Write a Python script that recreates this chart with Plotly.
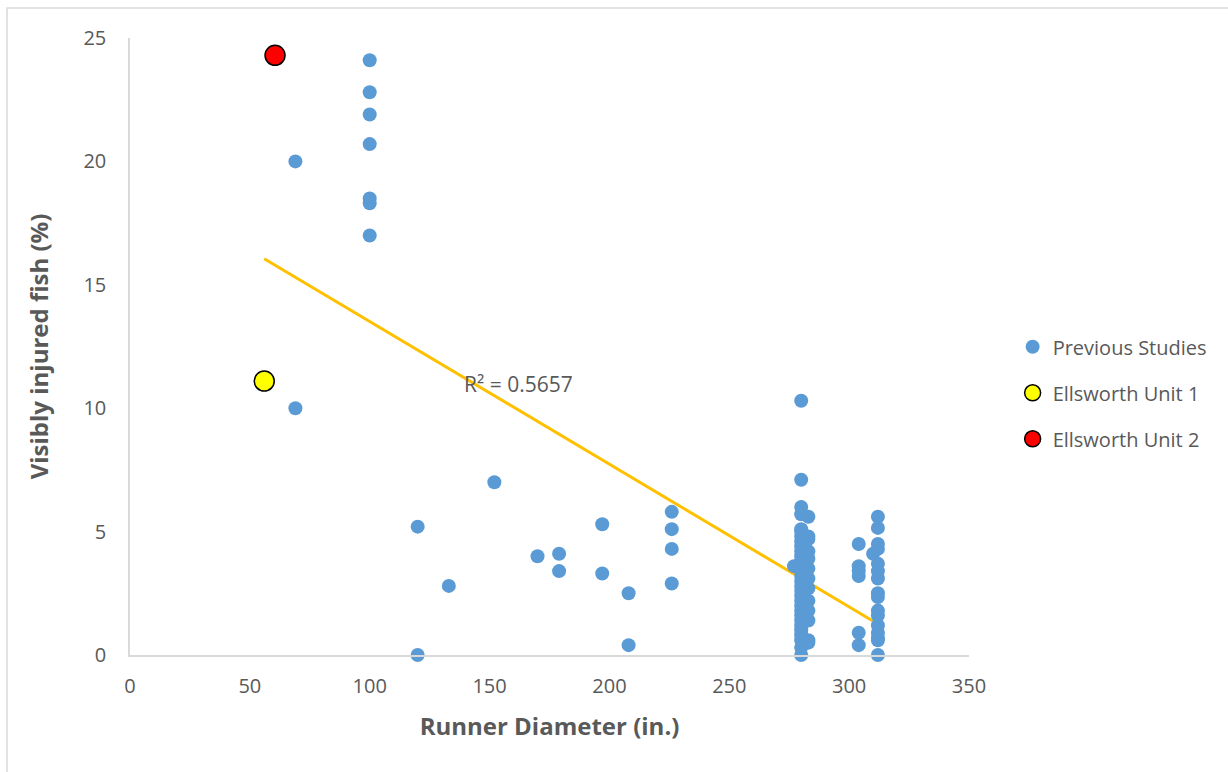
import plotly.graph_objects as go

# ---- Data ----
prev_x = (
    [69, 69]
    + [100] * 7
    + [120, 120, 133, 152, 170, 179, 179, 197, 197, 208, 208, 226, 226, 226, 226]
    + [280] * 30
    + [283] * 13
    + [277]
    + [304] * 6
    + [312] * 16
    + [310]
)
prev_y = (
    [20.0, 10.0]
    + [24.1, 22.8, 21.9, 20.7, 18.5, 18.3, 17.0]
    + [5.2, 0.0, 2.8, 7.0, 4.0, 4.1, 3.4, 5.3, 3.3, 2.5, 0.4, 5.8, 5.1, 4.3, 2.9]
    + [10.3, 7.1, 6.0, 5.7, 5.1, 5.0, 4.8, 4.6, 4.4, 4.2, 4.0, 3.8, 3.6, 3.4, 3.2,
       3.0, 2.8, 2.6, 2.4, 2.2, 2.0, 1.8, 1.6, 1.4, 1.2, 1.0, 0.8, 0.6, 0.3, 0.0]
    + [5.6, 4.8, 4.7, 4.2, 3.9, 3.5, 3.1, 2.7, 2.2, 1.8, 1.4, 0.6, 0.5]
    + [3.6]
    + [4.5, 3.6, 3.4, 3.2, 0.9, 0.4]
    + [5.6, 5.15, 4.5, 4.3, 3.7, 3.4, 3.1, 2.5, 2.35, 1.8, 1.6, 1.2, 0.9, 0.7, 0.6, 0.0]
    + [4.1]
)
unit1_x = [56]
unit1_y = [11.1]
unit2_x = [60.5]
unit2_y = [24.3]

trend_x = [56, 312]          # extent of the linear trendline
trend_slope = -0.0578
trend_intercept = 19.29
r2_label = "R² = 0.5657"

x_ticks = [0, 50, 100, 150, 200, 250, 300, 350]
y_ticks = [0, 5, 10, 15, 20, 25]

FONT = "Open Sans"
GREY = "#595959"

fig = go.Figure()

fig.add_trace(go.Scatter(
    x=trend_x, y=[trend_intercept + trend_slope * v for v in trend_x],
    mode="lines", line=dict(color="#FFC000", width=3),
    showlegend=False, hoverinfo="skip"))

fig.add_trace(go.Scatter(
    x=prev_x, y=prev_y, mode="markers", name="Previous Studies",
    legendgroup="a", cliponaxis=False,
    marker=dict(color="#5B9BD5", size=14, line=dict(width=0))))
fig.add_trace(go.Scatter(
    x=unit1_x, y=unit1_y, mode="markers", name="Ellsworth Unit 1",
    legendgroup="b", cliponaxis=False,
    marker=dict(color="#FFFF00", size=20, line=dict(color="black", width=1.5))))
fig.add_trace(go.Scatter(
    x=unit2_x, y=unit2_y, mode="markers", name="Ellsworth Unit 2",
    legendgroup="c", cliponaxis=False,
    marker=dict(color="#FF0000", size=20, line=dict(color="black", width=1.5))))

fig.add_annotation(
    x=162, y=10.98, text=r2_label, showarrow=False,
    font=dict(family=FONT, size=21, color=GREY))

# outer chart border
fig.add_shape(type="rect", xref="paper", yref="paper",
              x0=-0.1466, y0=-0.5, x1=1.6, y1=1.0486,
              line=dict(color="#D9D9D9", width=1.5), layer="below")

fig.update_layout(
    width=1228, height=772,
    margin=dict(l=130, r=259, t=38, b=117, autoexpand=False),
    paper_bgcolor="white", plot_bgcolor="white",
    font=dict(family=FONT, color=GREY, size=20),
    showlegend=True,
    legend=dict(x=1.052, y=0.425, xanchor="left", yanchor="middle",
                font=dict(family=FONT, size=20, color=GREY),
                tracegroupgap=17, itemwidth=30,
                bgcolor="rgba(0,0,0,0)"),
    xaxis=dict(range=[0, 350], tickvals=x_ticks, showgrid=False, zeroline=False,
               showline=True, linecolor="#D9D9D9", linewidth=1.5,
               ticks="", ticklabelstandoff=12,
               tickfont=dict(family=FONT, size=20, color=GREY),
               title=dict(text="<b>Runner Diameter (in.)</b>", standoff=20,
                          font=dict(family=FONT, size=24, color=GREY))),
    yaxis=dict(range=[0, 25], tickvals=y_ticks, showgrid=False, zeroline=False,
               showline=True, linecolor="#D9D9D9", linewidth=1.5,
               ticks="", ticklabelstandoff=18,
               tickfont=dict(family=FONT, size=20, color=GREY),
               title=dict(text="<b>Visibly injured fish (%)</b>", standoff=28,
                          font=dict(family=FONT, size=24, color=GREY))),
)

fig.write_html("out.html")
